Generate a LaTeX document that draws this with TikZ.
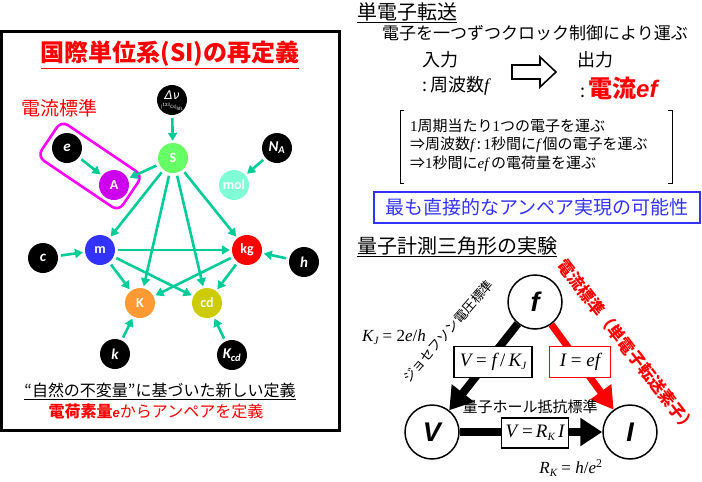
\documentclass[tikz,border=0pt]{standalone}
\usepackage{fontspec}
\setmainfont{Liberation Serif}
\newfontfamily\jpf{Noto Sans CJK JP}
\newfontfamily\calf{Carlito}
\newfontfamily\tmsf{Liberation Serif}
\newfontfamily\arf{Liberation Sans}
\newfontfamily\djf{DejaVu Sans}
\usetikzlibrary{arrows.meta}
\definecolor{arrc}{RGB}{0,204,153}
\definecolor{cS}{RGB}{102,255,102}
\definecolor{cA}{RGB}{204,0,238}
\definecolor{cmol}{RGB}{128,255,212}
\definecolor{cm}{RGB}{51,51,255}
\definecolor{ckg}{RGB}{255,0,0}
\definecolor{cK}{RGB}{255,153,51}
\definecolor{ccd}{RGB}{204,204,0}
\definecolor{cblue}{RGB}{51,51,255}
\definecolor{cmag}{RGB}{255,0,255}
\newcommand\subx[1]{\raisebox{-0.35ex}{\fontsize{11}{11}\selectfont\itshape #1}}
\newcommand\fs[1]{\fontsize{#1}{#1}\selectfont}
\tikzset{
  unitnode/.style={circle, minimum size=30pt, inner sep=0pt, text=white, font=\calf\bfseries\fs{14}},
  constnode/.style={unitnode, fill=black, font=\calf\bfseries\itshape\fs{15}},
  conn/.style={draw=arrc, line width=2.6pt, -{Triangle[length=8pt,width=9pt]}, shorten >=2pt, shorten <=3pt},
  trinode/.style={circle, draw, line width=1.5pt, minimum size=54pt, inner sep=0pt, fill=white, font=\arf\bfseries\itshape\fs{27}},
  eqbox/.style={draw, line width=1.6pt, fill=white, inner sep=2pt, font=\tmsf\fs{19}},
  jp/.style={font=\jpf\fs{#1}, inner sep=0pt},
}
\begin{document}
\begin{tikzpicture}[x=1pt,y=-1pt]
\useasboundingbox (0,0) rectangle (702,482);
% ---------- left panel ----------
\draw[line width=3pt] (1.5,31.5) rectangle (339,430.5);
\node[jp=24, text=red, font=\jpf\bfseries\fs{24}] (title) at (170,55) {\underline{国際単位系(SI)の再定義}};
\node[jp=19, text=red, anchor=west] (cur) at (21,108) {電流標準};
\node[draw=cmag, line width=2.6pt, rounded corners=8pt, minimum width=98pt, minimum height=43pt, rotate=-34] (ebox) at (90,166) {};

\node[constnode] (dnu) at (172,100) {};
\node[text=white, font=\djf\itshape\fs{12}, inner sep=0pt] (dnut) at (172,95) {Δν};
\node[text=white, font=\calf\fs{5}, inner sep=0pt] (dnub) at (172,107) {(\textsuperscript{133}Cs)\textsubscript{hfs}};
\node[unitnode, fill=cS] (S) at (173,158) {S};
\node[constnode] (e) at (67,148) {e};
\node[unitnode, fill=cA] (A) at (114,185) {A};
\node[constnode] (NA) at (277,148) {N\textsubscript{A}};
\node[unitnode, fill=cmol] (mol) at (234,185) {mol};
\node[unitnode, fill=cm] (m) at (100,250) {m};
\node[unitnode, fill=ckg] (kg) at (247,250) {kg};
\node[constnode] (c) at (43,258) {c};
\node[constnode] (h) at (304,262) {h};
\node[unitnode, fill=cK] (K) at (140,303) {K};
\node[unitnode, fill=ccd] (cd) at (207,303) {cd};
\node[constnode] (k) at (115,354) {k};
\node[constnode] (Kcd) at (232,355) {K\textsubscript{cd}};

\draw[conn] (dnu) -- (S);
\draw[conn] (e) -- (A);
\draw[conn] (S) -- (A);
\draw[conn] (NA) -- (mol);
\draw[conn] (S) -- (m);
\draw[conn] (S) -- (K);
\draw[conn] (S) -- (cd);
\draw[conn] (S) -- (kg);
\draw[conn] (c) -- (m);
\draw[conn] (h) -- (kg);
\draw[conn] (m) -- (kg);
\draw[conn] (m) -- (K);
\draw[conn] (m) -- (cd);
\draw[conn] (kg) -- (K);
\draw[conn] (kg) -- (cd);
\draw[conn] (k) -- (K);
\draw[conn] (Kcd) -- (cd);

\node[jp=16] (inv) at (160,391) {\underline{“自然の不変量”に基づいた新しい定義}};
\node[jp=16, text=red] (defA) at (156,411) {{\bfseries 電荷素量}{\arf\bfseries\itshape\fs{13}e}からアンペアを定義};

% ---------- right panel: single electron transfer ----------
\node[jp=20, anchor=west] (set) at (357,13) {\underline{単電子転送}};
\node[jp=17, anchor=west] (clk) at (382,33) {電子を一つずつクロック制御により運ぶ};
\node[jp=18, anchor=west] (in) at (422,60) {入力};
\node[jp=18, anchor=west] (inf) at (422,86) {:\,周波数{\tmsf\itshape f}};
\node[jp=18, anchor=west] (out) at (577,60) {出力};
\node[jp=18, anchor=west] (outf) at (580,88) {:\,{\color{red}\bfseries\fs{24}電流{\arf\bfseries\itshape ef}}};
\draw[line width=1.6pt, line join=miter] (512,65) -- (540,65) -- (540,57) -- (556,72) -- (540,87) -- (540,79) -- (512,79) -- cycle;

\draw[line width=1pt] (404,110) -- (400,110) -- (400,183) -- (404,183);
\draw[line width=1pt] (668,110) -- (672,110) -- (672,183) -- (668,183);
\node[jp=15, anchor=west] (l1) at (410,126) {{\tmsf 1}周期当たり{\tmsf 1}つの電子を運ぶ};
\node[jp=15, anchor=west] (l2) at (410,145) {⇒周波数{\tmsf\itshape f}\,:\,{\tmsf 1}秒間に{\tmsf\itshape f}\,個の電子を運ぶ};
\node[jp=15, anchor=west] (l3) at (410,164) {⇒{\tmsf 1}秒間に{\tmsf\itshape ef}\,の電荷量を運ぶ};

\node[draw=cblue, line width=1.5pt, text=cblue, font=\jpf\fs{19}, minimum width=326pt, minimum height=31pt, inner sep=0pt] (amp) at (537,207.5) {最も直接的なアンペア実現の可能性};

% ---------- quantum metrology triangle ----------
\node[jp=20, anchor=west] (qmt) at (357,247) {\underline{量子計測三角形の実験}};
\node[trinode] (f) at (535,302) {f};
\node[trinode] (V) at (432,432) {V};
\node[trinode] (I) at (630,432) {I};
\draw[line width=8pt, -{Triangle[length=22pt,width=27pt]}] (f) -- (V);
\draw[line width=7pt, red, -{Triangle[length=22pt,width=25pt]}] (f) -- (I);
\draw[line width=8pt, -{Triangle[length=22pt,width=27pt]}] (V) -- (I);

\node[eqbox, minimum width=78pt, minimum height=31pt] (eqV) at (493,362) {{\itshape V} = {\itshape f}\,/\,{\itshape K}\subx{J}};
\node[eqbox, draw=red, minimum width=61pt, minimum height=31pt] (eqI) at (580,362) {{\itshape I} = {\itshape ef}};
\node[eqbox, minimum width=67pt, minimum height=30pt] (eqR) at (535,433) {{\itshape V} =\,{\itshape R}\subx{K}\,{\itshape I}};
\node[font=\tmsf\fs{17}, inner sep=0pt] (KJ) at (394,337) {{\itshape K}\subx{J} = 2{\itshape e}/{\itshape h}};
\node[font=\tmsf\fs{17}, inner sep=0pt] (RK) at (571,468) {{\itshape R}\subx{K} = {\itshape h}/{\itshape e}\textsuperscript{2}};
\node[jp=15] (qhr) at (530,407) {量子ホール抵抗標準};
\node[jp=13, rotate=49] (jos) at (448,331) {ジョセフソン電圧標準};
\node[jp=16.5, text=red, font=\jpf\bfseries\fs{16.5}, rotate=-52] (setl) at (627,346) {電流標準（単電子転送素子）};
\end{tikzpicture}
\end{document}
